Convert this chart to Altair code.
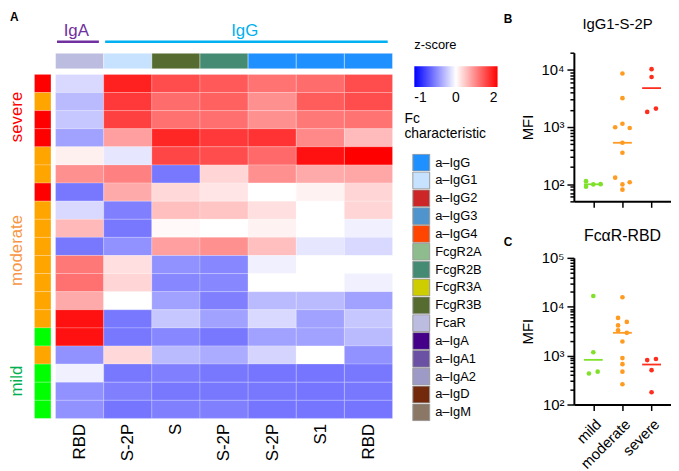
import altair as alt
import pandas as pd

# ---------------- Panel A data ----------------
col_labels = ["RBD", "S-2P", "S", "S-2P", "S-2P", "S1", "RBD"]
col_fc = ["FcaR", "a–IgG1", "FcgR3B", "FcgR2B", "a–IgG", "a–IgG", "a–IgG"]
row_severity = ["severe", "moderate", "severe", "severe", "moderate", "moderate",
                "severe", "moderate", "moderate", "moderate", "moderate", "moderate",
                "moderate", "moderate", "mild", "moderate", "mild", "mild", "mild"]

z_iga_rbd = [-0.15, -0.27, -0.22, -0.37, 0.12, 0.87, -0.53, -0.15, 0.55, -0.53,
             1.06, 1.12, 0.67, 1.87, 1.87, -0.43, -0.06, -0.43, -0.43]
z_igg1_s2p = [1.75, 1.55, 1.50, 0.75, -0.10, 1.00, 0.67, -0.50, -0.53, -0.43,
              0.25, 0.33, 0.00, -0.53, -0.53, 0.30, -0.53, -0.50, -0.54]
z_fcgr3b_s = [1.40, 1.15, 1.12, 1.70, 1.45, -0.53, 0.30, 0.50, 0.05, 0.75,
              -0.43, -0.47, -0.37, -0.22, -0.47, -0.27, -0.50, -0.53, -0.50]
z_fcgr2b_s2p = [1.30, 1.25, 1.13, 1.55, 1.40, 0.33, 0.20, 0.46, 0.00, 0.87,
                -0.47, -0.47, -0.50, -0.37, -0.53, -0.33, -0.53, -0.53, -0.50]
z_igg_s2p = [1.10, 0.87, 0.87, 1.60, 1.18, 0.87, 0.00, 0.25, 0.10, 0.50,
             -0.06, 0.00, -0.27, -0.15, -0.37, -0.17, -0.54, -0.53, -0.54]
z_igg_s1 = [1.15, 1.28, 1.06, 0.93, 1.87, 0.67, 0.10, 0.00, 0.00, -0.10,
            0.00, 0.00, -0.27, -0.37, -0.37, 0.00, -0.54, -0.54, -0.54]
z_igg_rbd = [1.40, 1.40, 1.10, 0.53, 2.00, 0.70, 0.33, 0.33, -0.06, -0.15,
             0.00, -0.06, -0.37, -0.22, -0.27, -0.43, -0.53, -0.53, -0.54]
z_cols = [z_iga_rbd, z_igg1_s2p, z_fcgr3b_s, z_fcgr2b_s2p, z_igg_s2p, z_igg_s1, z_igg_rbd]

fc_names = ["a–IgG", "a–IgG1", "a–IgG2", "a–IgG3", "a–IgG4", "FcgR2A", "FcgR2B",
            "FcgR3A", "FcgR3B", "FcaR", "a–IgA", "a–IgA1", "a–IgA2", "a–IgD", "a–IgM"]
fc_colors = ["#1E90FF", "#C6E2FF", "#CD2626", "#4F94CD", "#FF4500", "#8FBC8F", "#458B74",
             "#CDCD00", "#556B2F", "#BCBCE0", "#440088", "#6A51A3", "#9E9AC8", "#732A0C",
             "#8B7765"]

iso_names = ["IgA", "IgG"]
iso_start = [0, 1]
iso_end = [1, 7]
iso_colors = ["#7030A0", "#00B0F0"]

groups = ["mild", "moderate", "severe"]
strip_colors = ["#00FF00", "#FFA500", "#FF0000"]
label_colors = ["#00B050", "#F79646", "#FF0000"]
dot_colors = ["#7FE12A", "#FF9B21", "#FF2D1E"]

# ---------------- Panel B / C data ----------------
igg1_mild = [113, 90, 99, 100]
igg1_moderate = [8650, 3200, 1140, 990, 960, 530, 355, 130, 108, 99, 80]
igg1_severe = [10300, 7500, 1840, 2100]
igg1_mild_dodge = [-1, -1, 0, 1]
igg1_moderate_dodge = [0, 0, 0, -1, 1, 0, 0, -1, 1, 0, 0]
igg1_severe_dodge = [0, 0, -0.6, 0.6]

fcar_mild = [16600, 1170, 430, 470]
fcar_moderate = [15600, 5900, 4900, 4150, 3300, 2930, 1950, 890, 670, 470, 260]
fcar_severe = [810, 855, 505, 178]
fcar_mild_dodge = [0, 0, -0.6, 0.6]
fcar_moderate_dodge = [0, -0.6, 0.6, -0.6, -0.6, 0.6, 0, 0, 0, 0, 0]
fcar_severe_dodge = [-0.6, 0.6, 0, 0]

FONT = "Liberation Sans, Arial, sans-serif"

# ---------------- Panel A ----------------
heat_df = pd.DataFrame([{"col": ci, "row": ri, "z": v}
                        for ci, vals in enumerate(z_cols) for ri, v in enumerate(vals)])
side_df = pd.DataFrame({"row": list(range(len(row_severity))), "sev": row_severity})
ann_df = pd.DataFrame({"col": list(range(len(col_fc))), "fc": col_fc})

xsc = alt.Scale(domain=[0, 7], nice=False, zero=False)
ysc = alt.Scale(domain=[-1.2, 19], reverse=True, nice=False, zero=False)

label_expr = "[" + ",".join("'%s'" % s for s in col_labels) + "][floor(datum.value)]"

heat = alt.Chart(heat_df).transform_calculate(
    col2="datum.col + 1", row2="datum.row + 1",
    u="datum.z < 0 ? datum.z : datum.z / 2"
).mark_rect(stroke="#FFFFFF", strokeWidth=0.3, strokeOpacity=0.7).encode(
    x=alt.X("col:Q", scale=xsc,
            axis=alt.Axis(values=[i + 0.5 for i in range(len(col_labels))], labelExpr=label_expr,
                          title=None, domain=False, ticks=False, tickSize=0, grid=False,
                          labelAngle=-90, labelAlign="right", labelBaseline="middle",
                          labelFontSize=17, labelPadding=5, labelColor="black",
                          labelOverlap=False, labelFlush=False)),
    x2="col2:Q",
    y=alt.Y("row:Q", scale=ysc, axis=None),
    y2="row2:Q",
    fill=alt.Fill("u:Q",
                  scale=alt.Scale(domain=[-1, 0, 1], range=["#0000FF", "#FFFFFF", "#FF0000"],
                                  interpolate="rgb"),
                  legend=alt.Legend(title="z-score", orient="none", legendX=362, legendY=-14,
                                    direction="horizontal", gradientLength=84,
                                    gradientThickness=21, values=[-1, 0, 1],
                                    labelExpr="datum.value < -0.5 ? '-1' : (datum.value > 0.5 ? '2' : '0')",
                                    titleFontSize=13, titleFontWeight="normal", titlePadding=14.7,
                                    labelFontSize=14, labelOffset=4, padding=0,
                                    gradientStrokeWidth=0, titleColor="black",
                                    labelColor="black")),
)

side = alt.Chart(side_df).transform_calculate(row2="datum.row + 1").mark_rect(
    stroke="#FFFFFF", strokeWidth=0.3, strokeOpacity=0.7).encode(
    x=alt.datum(-0.438), x2=alt.datum(-0.096),
    y=alt.Y("row:Q"), y2="row2:Q",
    color=alt.Color("sev:N", scale=alt.Scale(domain=groups, range=strip_colors), legend=None),
)

ann = alt.Chart(ann_df).transform_calculate(col2="datum.col + 1").mark_rect(
    stroke="#FFFFFF", strokeWidth=0.4).encode(
    x=alt.X("col:Q"), x2="col2:Q",
    y=alt.datum(-1.166), y2=alt.datum(-0.31),
    color=alt.Color("fc:N", scale=alt.Scale(domain=fc_names, range=fc_colors),
                    legend=alt.Legend(title=["Fc", "characteristic"], orient="none",
                                      legendX=352, legendY=60, symbolType="square",
                                      symbolSize=289, symbolStrokeColor="#9A9A9A",
                                      symbolStrokeWidth=1, symbolOffset=8, clipHeight=17.8,
                                      labelFontSize=13, labelOffset=5, rowPadding=0,
                                      titleFontSize=14, titleFontWeight="normal",
                                      titleLineHeight=15, titlePadding=13, padding=0,
                                      labelOverlap=False,
                                      titleColor="black", labelColor="black")),
)

layers = [heat, side, ann]

for name, s, e, c in zip(iso_names, iso_start, iso_end, iso_colors):
    d = pd.DataFrame({"name": [name], "s": [s], "e": [e]})
    layers.append(alt.Chart(d).transform_calculate(
        a="datum.s + 0.03", b="datum.e - 0.1").mark_rule(color=c, strokeWidth=2.5).encode(
        x="a:Q", x2="b:Q", y=alt.datum(-1.8)))
    layers.append(alt.Chart(d).transform_calculate(
        m="(datum.s + datum.e) / 2 - 0.07").mark_text(
        color=c, fontSize=17, baseline="alphabetic", align="center").encode(
        x="m:Q", y=alt.datum(-2.13), text="name:N"))

sev_pos = {"severe": 2.35, "moderate": 9.72, "mild": 16.94}
for g, c in zip(groups, label_colors):
    d = pd.DataFrame({"t": [g]})
    layers.append(alt.Chart(d).mark_text(color=c, fontSize=17, angle=270, align="center",
                                         baseline="middle").encode(
        x=alt.datum(-0.80), y=alt.datum(sev_pos[g]), text="t:N"))

letter_pos = {"A": (-0.947, -3.45), "B": (9.31, -3.32), "C": (9.31, 8.98)}
for t, (lx, ly) in letter_pos.items():
    d = pd.DataFrame({"t": [t]})
    layers.append(alt.Chart(d).mark_text(fontSize=12, fontWeight="bold", align="left",
                                         baseline="top", color="black").encode(
        x=alt.datum(lx), y=alt.datum(ly), text="t:N"))

panel_a = alt.layer(*layers).resolve_scale(color="independent", fill="independent").properties(
    width=340, height=369)

# ---------------- Panels B and C ----------------
sup = {100: "10²", 1000: "10³", 10000: "10⁴", 100000: "10⁵"}
major_test = " || ".join("datum.value == %d" % k for k in sup)
ylabel_expr = " : ".join("datum.value == %d ? '%s'" % (k, v) for k, v in sup.items()) + " : ''"
xlabel_expr = "[" + ",".join("'%s'" % g for g in groups) + "][datum.value]"


def dot_panel(vals, dodges, ydom, title, show_labels, h, tsize, toff, tdx):
    recs = []
    for gi, (g, vs, ds) in enumerate(zip(groups, vals, dodges)):
        for v, dd in zip(vs, ds):
            recs.append({"gi": gi, "grp": g, "mfi": v, "dodge": dd})
    df = pd.DataFrame(recs)
    lo, hi = ydom
    ticks = []
    e = 1
    while 10 ** e <= hi:
        for m in range(1, 10):
            t = m * 10 ** e
            if lo <= t <= hi:
                ticks.append(t)
        e += 1
    xs = alt.Scale(domain=[-0.667, 2.667], nice=False, zero=False)
    ys = alt.Scale(type="log", domain=[lo, hi], nice=False)
    common = dict(domainColor="black", domainWidth=2, tickColor="black", tickWidth=1.5,
                  labelColor="black", titleColor="black", grid=False)
    if show_labels:
        xax = alt.Axis(values=[0, 1, 2], title=None, tickSize=6, labelExpr=xlabel_expr,
                       labelAngle=-45, labelAlign="right", labelBaseline="top",
                       labelFontSize=15, labelPadding=6, labelFlush=False,
                       labelOverlap=False, labelBound=False, **common)
    else:
        xax = alt.Axis(values=[0, 1, 2], title=None, tickSize=6, labels=False, **common)
    yax = alt.Axis(values=ticks, title="MFI", labelExpr=ylabel_expr, labelOverlap=False,
                   tickSize={"condition": {"test": major_test, "value": 7}, "value": 4},
                   labelFontSize=15, titleFontSize=15, titleFontWeight="normal",
                   labelPadding=3, titlePadding=6, **common)
    col = alt.Color("grp:N", scale=alt.Scale(domain=groups, range=dot_colors), legend=None)
    pts = alt.Chart(df).transform_calculate(xpos="datum.gi + datum.dodge * 0.25").mark_circle(
        size=22, opacity=1).encode(
        x=alt.X("xpos:Q", scale=xs, axis=xax),
        y=alt.Y("mfi:Q", scale=ys, axis=yax),
        color=col)
    med = alt.Chart(df).mark_tick(orient="horizontal", size=19, thickness=1.8).encode(
        x=alt.X("gi:Q", scale=xs, axis=xax),
        y=alt.Y("median(mfi):Q", scale=ys, axis=yax),
        color=col)
    return alt.layer(pts, med).properties(
        width=98, height=h,
        title=alt.TitleParams(title, fontSize=tsize, fontWeight="normal", offset=toff,
                              dx=tdx, anchor="middle", color="black"))


panel_b = dot_panel([igg1_mild, igg1_moderate, igg1_severe],
                    [igg1_mild_dodge, igg1_moderate_dodge, igg1_severe_dodge],
                    (50, 20000), "IgG1-S-2P", False, 150, 15, 14, -5)
panel_c = dot_panel([fcar_mild, fcar_moderate, fcar_severe],
                    [fcar_mild_dodge, fcar_moderate_dodge, fcar_severe_dodge],
                    (100, 100000), "FcαR-RBD", True, 148, 16, 7, 0)

right = alt.vconcat(panel_b, panel_c, spacing=57, bounds="flush")

chart = alt.hconcat(panel_a, right, spacing=183, bounds="flush").resolve_scale(
    color="independent", fill="independent").properties(padding=0).configure(
    font=FONT).configure_view(stroke=None)

chart.save("out.html", embed_options={"renderer": "svg", "actions": False})
